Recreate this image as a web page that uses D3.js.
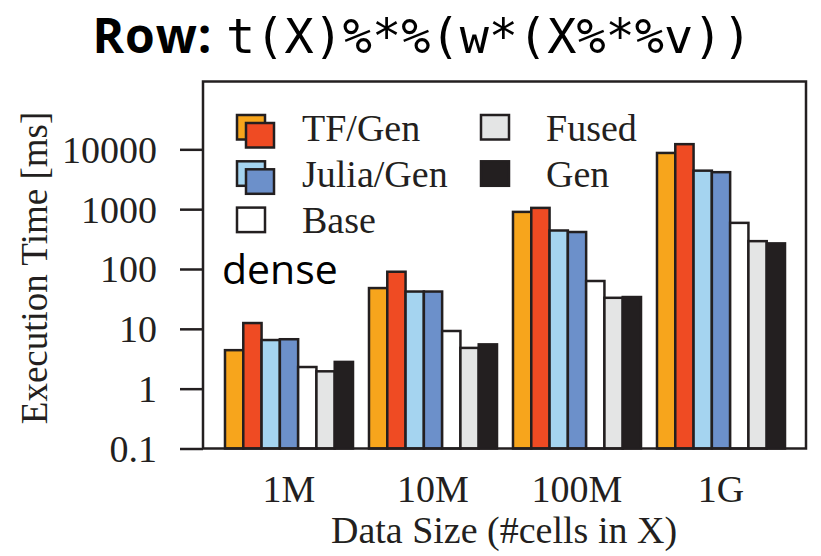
<!DOCTYPE html>
<html lang="en">
<script src="https://d3js.org/d3.v7.min.js"></script>
<style>
    body {margin: 0; background: white;}
    .axis text {font-family: "Liberation Serif", serif; font-size: 38px; fill: #231f20;}
    .axis path, .axis line {stroke: #231f20; stroke-width: 2.5;}
    .legend text {font-family: "Liberation Serif", serif; font-size: 38px; fill: #231f20;}
    .bar rect {stroke: #231f20; stroke-width: 2.5;}
</style>
<body>
    <svg width="821" height="556"></svg>
</body>
<script>
    var categories = ["1M", "10M", "100M", "1G"];
    var seriesNames = ["TF/Gen a", "TF/Gen b", "Julia/Gen a", "Julia/Gen b", "Base", "Fused", "Gen"];
    var seriesColors = ["#f7a51c", "#ef4b23", "#a5d4f0", "#6c90ca", "#ffffff", "#e4e5e5", "#231f20"];

    var tfGenA    = [4.4, 48, 900, 8700];
    var tfGenB    = [12.5, 90, 1050, 12200];
    var juliaGenA = [6.5, 42, 440, 4400];
    var juliaGenB = [6.7, 42, 415, 4150];
    var base      = [2.3, 9.2, 63, 590];
    var fused     = [1.95, 4.8, 33, 292];
    var gen       = [2.8, 5.5, 34, 268];
    var allSeries = [tfGenA, tfGenB, juliaGenA, juliaGenB, base, fused, gen];

    var yTicks = [0.1, 1, 10, 100, 1000, 10000];

    var legendItems = [
        {label: "TF/Gen", fills: ["#f7a51c", "#ef4b23"]},
        {label: "Julia/Gen", fills: ["#a5d4f0", "#6c90ca"]},
        {label: "Base", fills: ["#ffffff"]},
        {label: "Fused", fills: ["#e4e5e5"]},
        {label: "Gen", fills: ["#231f20"]}
    ];

    var svg = d3.select("svg");
    var plot = {left: 203, right: 806, top: 81.5, bottom: 448.5};

    var x = d3.scaleBand().domain(categories)
        .range([plot.left + 14, plot.right - 13])
        .paddingInner(0.111).paddingOuter(0.0555);
    var xInner = d3.scaleBand().domain(seriesNames).range([0, x.bandwidth()]);
    var y = d3.scaleLog().domain([0.1, 136000]).range([plot.bottom, plot.top]);

    // title
    var title = svg.append("text").attr("x", 422).attr("y", 53).attr("text-anchor", "middle");
    title.append("tspan").attr("font-family", "Open Sans").attr("font-weight", "bold")
        .attr("font-size", 48).attr("letter-spacing", 1).text("Row: ");
    title.append("tspan").attr("font-family", "DejaVu Sans Mono").attr("font-size", 48.5)
        .text("t(X)%*%(w*(X%*%v))");

    // bars
    var rows = [];
    categories.forEach(function(c, i){
        seriesNames.forEach(function(s, j){
            rows.push({cat: c, series: s, value: allSeries[j][i], color: seriesColors[j]});
        });
    });

    svg.append("g").attr("class", "bar").selectAll("rect").data(rows).enter().append("rect")
        .attr("x", function(d){return x(d.cat) + xInner(d.series);})
        .attr("y", function(d){return y(d.value);})
        .attr("width", xInner.bandwidth())
        .attr("height", function(d){return plot.bottom - y(d.value);})
        .attr("fill", function(d){return d.color;});

    // frame
    svg.append("rect").attr("x", plot.left).attr("y", plot.top)
        .attr("width", plot.right - plot.left).attr("height", plot.bottom - plot.top)
        .attr("fill", "none").attr("stroke", "#231f20").attr("stroke-width", 2.5);

    // y axis
    var yAxis = svg.append("g").attr("class", "axis").attr("transform", "translate(" + plot.left + ",0)")
        .call(d3.axisLeft(y).tickValues(yTicks).tickSize(23).tickPadding(23)
            .tickFormat(function(d){return d < 1 ? "0.1" : d3.format("d")(d);}));
    yAxis.select(".domain").remove();
    yAxis.selectAll("text").attr("dy", "0.34em");

    // x axis labels
    var xAxis = svg.append("g").attr("class", "axis").attr("transform", "translate(0," + plot.bottom + ")")
        .call(d3.axisBottom(x).tickSize(0).tickPadding(27));
    xAxis.select(".domain").remove();

    svg.append("text").attr("x", 504).attr("y", 543).attr("text-anchor", "middle")
        .style("font-family", "Liberation Serif").style("font-size", "38px").style("fill", "#231f20")
        .text("Data Size (#cells in X)");

    svg.append("text").attr("transform", "translate(47,268) rotate(-90)").attr("text-anchor", "middle")
        .style("font-family", "Liberation Serif").style("font-size", "37px").style("fill", "#231f20")
        .text("Execution Time [ms]");

    // dense tag
    svg.append("text").attr("x", 222).attr("y", 284).attr("font-family", "Open Sans")
        .attr("font-size", 41).attr("fill", "black").text("dense");

    // legend
    var legend = svg.append("g").attr("class", "legend");
    var leg = legend.selectAll("g").data(legendItems).enter().append("g")
        .attr("transform", function(d, i){
            var col = i < 3 ? 0 : 1, row = i < 3 ? i : i - 3;
            return "translate(" + (237 + col * 244) + "," + (115 + row * 46.3) + ")";
        });
    leg.each(function(d){
        var g = d3.select(this);
        d.fills.forEach(function(f, k){
            g.append("rect").attr("x", k * 9).attr("y", k * 8).attr("width", 28).attr("height", 24.5)
                .attr("fill", f).attr("stroke", "#231f20").attr("stroke-width", 2.5);
        });
    });
    leg.append("text").attr("x", 65).attr("y", 25.5).text(function(d){return d.label;});
</script>
</html>
